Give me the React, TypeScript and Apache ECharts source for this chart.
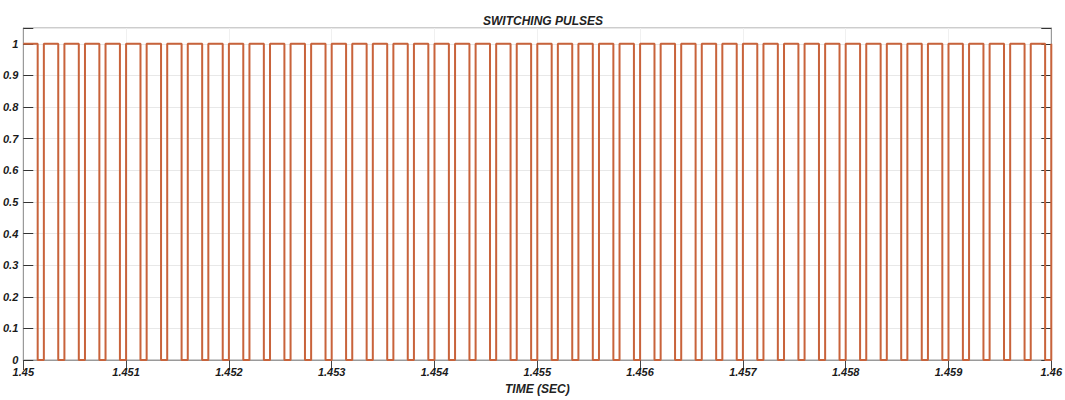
import React, { useEffect, useRef } from "react";
import * as echarts from "echarts";

// Switching pulse edges (seconds)
const fallTimes = [
  1.45014, 1.45034, 1.45054, 1.45074, 1.45094, 1.45114, 1.45134, 1.45154, 1.45174, 1.45194,
  1.45214, 1.45234, 1.45254, 1.45274, 1.45294, 1.45314, 1.45334, 1.45354, 1.45374, 1.45394,
  1.45414, 1.45434, 1.45454, 1.45474, 1.45494, 1.45514, 1.45534, 1.45554, 1.45574, 1.45594,
  1.45614, 1.45634, 1.45654, 1.45674, 1.45694, 1.45714, 1.45734, 1.45754, 1.45774, 1.45794,
  1.45814, 1.45834, 1.45854, 1.45874, 1.45894, 1.45914, 1.45934, 1.45954, 1.45974, 1.45994,
];
const riseTimes = [
  1.4502, 1.4504, 1.4506, 1.4508, 1.451, 1.4512, 1.4514, 1.4516, 1.4518, 1.452,
  1.4522, 1.4524, 1.4526, 1.4528, 1.453, 1.4532, 1.4534, 1.4536, 1.4538, 1.454,
  1.4542, 1.4544, 1.4546, 1.4548, 1.455, 1.4552, 1.4554, 1.4556, 1.4558, 1.456,
  1.4562, 1.4564, 1.4566, 1.4568, 1.457, 1.4572, 1.4574, 1.4576, 1.4578, 1.458,
  1.4582, 1.4584, 1.4586, 1.4588, 1.459, 1.4592, 1.4594, 1.4596, 1.4598, 1.46,
];
const startTime = 1.45;
const highLevel = 1;
const lowLevel = 0;

const xTickLabels = ["1.45", "1.451", "1.452", "1.453", "1.454", "1.455", "1.456", "1.457", "1.458", "1.459", "1.46"];
const yTickLabels = ["0", "0.1", "0.2", "0.3", "0.4", "0.5", "0.6", "0.7", "0.8", "0.9", "1"];

const FONT = "'Liberation Sans', Arial, sans-serif";

export default function App() {
  const ref = useRef<HTMLDivElement>(null);

  useEffect(() => {
    document.body.style.margin = "0";
    if (!ref.current) return;
    const chart = echarts.init(ref.current, null, { renderer: "svg" });

    const data: [number, number][] = [[startTime, highLevel]];
    for (let i = 0; i < fallTimes.length; i++) {
      data.push([fallTimes[i], highLevel]);
      data.push([fallTimes[i], lowLevel]);
      data.push([riseTimes[i], lowLevel]);
      data.push([riseTimes[i], highLevel]);
    }

    const labelStyle = {
      fontFamily: FONT,
      fontSize: 11,
      fontWeight: "bold" as const,
      fontStyle: "italic" as const,
      color: "#1a1a1a",
    };

    const xFmt = (v: number) => {
      const s = Number(v.toFixed(3)).toString();
      return xTickLabels.includes(s) ? s : "";
    };
    const yFmt = (v: number) => {
      const s = Number(v.toFixed(2)).toString();
      return yTickLabels.includes(s) ? s : "";
    };

    chart.setOption({
      animation: false,
      backgroundColor: "#ffffff",
      title: {
        text: "SWITCHING PULSES",
        left: 538,
        textAlign: "center",
        top: 10,
        textStyle: { ...labelStyle, fontSize: 12, color: "#222" },
      },
      grid: {
        left: 22,
        right: 10,
        top: 28,
        bottom: 38,
        show: true,
        borderColor: "#9a9a9a",
        borderWidth: 1,
      },
      xAxis: [
        {
          type: "value",
          min: 1.45,
          max: 1.46,
          interval: 0.001,
          position: "bottom",
          name: "TIME (SEC)",
          nameLocation: "middle",
          nameGap: 23,
          nameTextStyle: { ...labelStyle, fontSize: 12, color: "#222" },
          axisLine: { show: true, lineStyle: { color: "#c4c4c4" } },
          axisTick: { show: false },
          axisLabel: { ...labelStyle, margin: 6, formatter: xFmt, showMaxLabel: true, showMinLabel: true },
          splitLine: { show: true, lineStyle: { color: "#f0f0f0", width: 1 } },
        },
        {
          type: "value",
          min: 1.45,
          max: 1.46,
          interval: 0.001,
          position: "top",
          axisLine: { show: true, lineStyle: { color: "#9a9a9a" } },
          axisTick: { show: true, inside: true, length: 10, lineStyle: { color: "#444" } },
          axisLabel: { show: false },
          splitLine: { show: false },
        },
      ],
      yAxis: [
        {
          type: "value",
          min: 0,
          max: 1.05,
          interval: 0.1,
          position: "left",
          axisLine: { show: true, lineStyle: { color: "#9a9a9a" } },
          axisTick: { show: true, inside: true, length: 10, lineStyle: { color: "#333" } },
          axisLabel: { ...labelStyle, margin: 5, formatter: yFmt },
          splitLine: { show: true, lineStyle: { color: "#e8e8e8", width: 1 } },
        },
        {
          type: "value",
          min: 0,
          max: 1.05,
          interval: 0.1,
          position: "right",
          axisLine: { show: true, lineStyle: { color: "#9a9a9a" } },
          axisTick: { show: true, inside: true, length: 10, lineStyle: { color: "#333" } },
          axisLabel: { show: false },
          splitLine: { show: false },
        },
      ],
      series: [
        {
          type: "line",
          xAxisIndex: 0,
          yAxisIndex: 0,
          data,
          showSymbol: false,
          symbol: "none",
          lineStyle: { color: "#c8633b", width: 2 },
          itemStyle: { color: "#c8633b" },
          clip: false,
        },
      ],
    });

    return () => chart.dispose();
  }, []);

  return <div ref={ref} style={{ width: 1065, height: 400 }} />;
}
